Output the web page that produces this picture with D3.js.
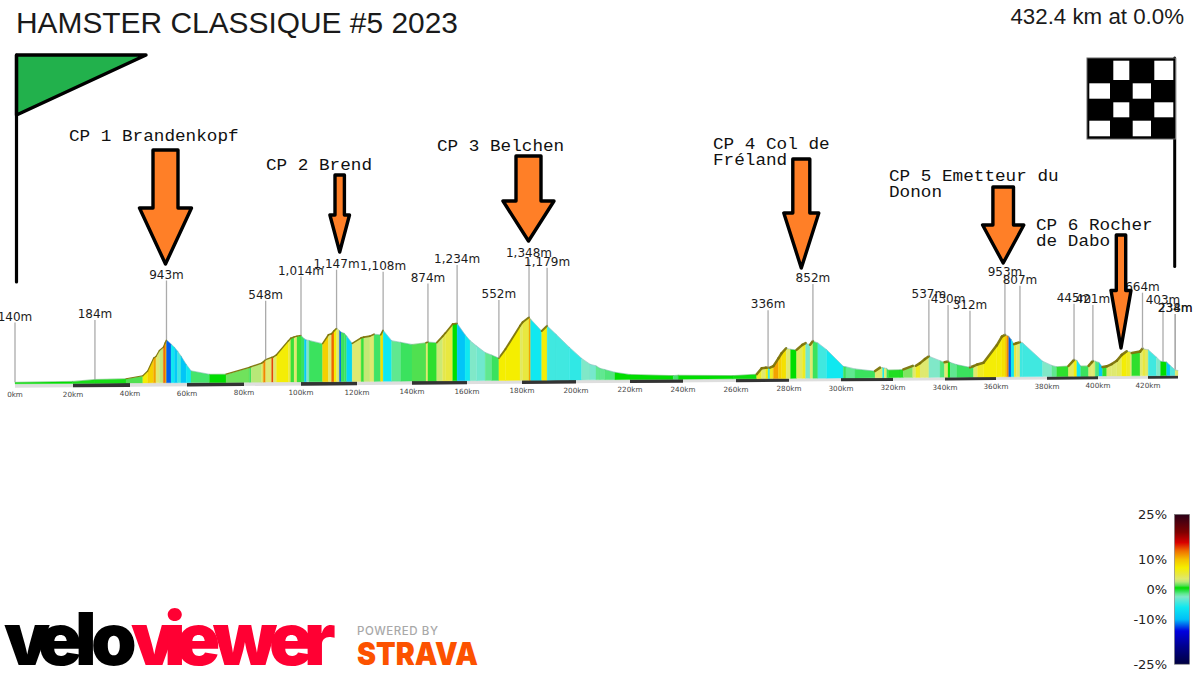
<!DOCTYPE html>
<html>
<head>
<meta charset="utf-8">
<title>HAMSTER CLASSIQUE #5 2023</title>
<script src="https://cdn.jsdelivr.net/npm/d3@7"></script>
<style>
  html, body { margin: 0; padding: 0; background: #fff; }
  svg { display: block; }
</style>
</head>
<body>
<svg id="chart" width="1200" height="675"></svg>
<script>
// Route profile: distance (km), elevation (m) and the gradient band (%) that follows each point.
const profileKm = [
  0, 19.9, 27.7, 38.6, 44.5, 46.2, 48.3, 49.1, 50.3, 51.7, 52.3, 52.8, 54.4, 55.6, 56.7, 57.9, 59.7, 61.4, 67.9, 73.7,
  81.9, 82.5, 86.2, 86.8, 87.6, 89.7, 90.3, 91.4, 95.6, 96.4, 97.6, 98.6, 100, 101.2, 102, 102.9, 107.7, 109.8, 110.9, 111.8,
  112.7, 113.7, 114.3, 115.5, 116.3, 118.3, 121.5, 122.5, 124.7, 126.2, 128.6, 129.5, 132.6, 135.9, 140, 145.1, 145.8, 149, 151.1, 152.1,
  154.8, 156.4, 159.3, 161.1, 163.5, 166.6, 169, 171.6, 174, 179.3, 180.2, 182.6, 183.2, 187.3, 189.3, 192.6, 197.5, 202.1, 205.2, 207.4,
  208.9, 210.7, 214.4, 220, 236.3, 238.2, 258.9, 267.8, 269.7, 271.2, 272.1, 272.8, 274.1, 276, 277.2, 278.9, 280.6, 282.9, 285.1, 286.4,
  288.1, 289.2, 291.1, 294.5, 300.9, 301.9, 305.4, 313.1, 315, 316, 316.6, 317.6, 318.2, 322.7, 324, 327.6, 328.8, 330.4, 332.3, 333.8,
  338.1, 339.8, 341.2, 342, 344.6, 349.8, 351.2, 352.7, 355.1, 360.3, 362.3, 363.5, 364.2, 365, 365.9, 367.1, 368, 369.4, 370.5, 378.3,
  381.9, 383.8, 388.4, 390.6, 391.7, 393.2, 396.3, 397.6, 398, 398.9, 400.4, 401.8, 403.5, 405.5, 407.5, 409.5, 411.5, 412.8, 413.5, 416.8,
  417.8, 418.8, 420.1, 423.5, 425.2, 426.2, 427.7, 429.1, 431.2, 432.4
];
const profileElev = [
  140, 150, 184, 195, 250, 340, 590, 620, 735, 800, 880, 943, 862, 798, 722, 627, 468, 341, 271, 271,
  398, 412, 480, 505, 548, 590, 600, 640, 913, 960, 985, 1000, 1014, 948, 925, 916, 853, 1024, 1043, 1100,
  1147, 1110, 1075, 1050, 1000, 853, 961, 974, 993, 1031, 1018, 1108, 904, 870, 828, 859, 874, 859, 980, 1043,
  1221, 1234, 1012, 897, 790, 663, 612, 552, 726, 1183, 1247, 1348, 1310, 1075, 1179, 1012, 758, 536, 421, 390,
  340, 315, 261, 216, 188, 195, 180, 204, 320, 330, 336, 330, 362, 514, 613, 711, 692, 678, 777, 810,
  777, 852, 815, 678, 349, 340, 297, 250, 317, 317, 310, 300, 270, 274, 280, 349, 349, 402, 482, 537,
  448, 414, 430, 414, 368, 312, 335, 368, 402, 746, 919, 953, 945, 925, 865, 766, 785, 807, 790, 424,
  339, 313, 325, 445, 438, 323, 325, 400, 421, 418, 392, 300, 313, 358, 424, 540, 611, 600, 577, 603,
  664, 650, 640, 491, 410, 403, 392, 325, 234, 220
];
const segmentGrade = [
  0.5, 0.7, 0.7, 1.2, 7, 9, 11, 3.5, 2.8, 13, 11, -12, -6, -9, -4.5, -9.5, -6, -1, 0.5, 1.6,
  -0.7, 2.5, 4, 12, 3.5, 14, 3.5, 7, 5, 1, 3.5, 1, -0.8, -9, -2.5, -0.8, 9, 3.5, 13, 7,
  3.5, -12, -0.8, -0.8, -8, 3.5, 1, 2.8, 3.5, -0.9, 8, -6, -1.5, -0.8, 1.2, 3.5, 0.9, 3, 4.5, 5,
  0.5, -9.5, -6, -2.5, -3, -1.5, -0.8, 7.2, 7.2, 4, 5, 11, -6, 7, -4.5, -4.5, -5, -2.5, -2.8, -1.5,
  -1.5, -1.2, 0.5, 0.5, -1, 0.5, 0.6, 6, 3.5, 7, -5, 6, 11, 9, 8, 3.5, 0.5, 4, 6, -2.8,
  3.5, -0.8, -4.5, -6, -0.8, -1.5, -0.8, 3.5, 3.5, -6, 3.5, -0.8, 0.8, 0.8, 1.8, 3.5, 6, 3.5, 3.5, -2.5,
  -1.2, 3.5, 0.5, -1.5, -0.8, -0.8, 3.5, 6, 7, 7, 8, 9, 12, -12, -6, 5, 3.5, -4.5, -4.5, -2.5,
  -1.5, 0.9, 4, 7, -6, -0.8, 3.5, 3.5, 3.5, -1.2, -9, 0.9, 3.5, 3.5, 4, 7, 6, 3.5, 0.9, 3.5,
  5, 4, -4.5, -2.5, 0.5, 0.5, -9, -4, 3.5
];

// Named summits and passes: kilometre, elevation in metres.
const markerKm = [0, 27.7, 52.8, 87.6, 100, 112.7, 129.5, 145.8, 156.4, 171.6, 182.6, 189.3, 272.1, 289.2, 333.8, 341.2, 349.8, 363.5, 369.4, 390.6, 398, 417.8, 426.2, 431.2, 431.3];
const markerElev = [140, 184, 943, 548, 1014, 1147, 1108, 874, 1234, 552, 1348, 1179, 336, 852, 537, 430, 312, 953, 807, 445, 421, 664, 403, 234, 238];

// Distance axis.
const distanceTicks = [0, 20, 40, 60, 80, 100, 120, 140, 160, 180, 200, 220, 240, 260, 280, 300, 320, 340, 360, 380, 400, 420];
const totalKm = 432.4;

// Checkpoint callouts.
const checkpointLines = [
  ["CP 1 Brandenkopf"],
  ["CP 2 Brend"],
  ["CP 3 Belchen"],
  ["CP 4 Col de", "Fréland"],
  ["CP 5 Emetteur du", "Donon"],
  ["CP 6 Rocher", "de Dabo"]
];

// Gradient colour key.
const gradeStops = [25, 19, 15.6, 12.8, 10, 7.2, 5, 3.5, 2.5, 1.2, 0.5, -0.6, -1.5, -2.5, -4.5, -6, -10, -13.9, -18.9, -25];
const gradeColors = ["#2a0018", "#800000", "#d80000", "#f07000", "#f5c000", "#f5ee00", "#e8e840", "#dfe970", "#b8e878", "#50e050", "#00dd00", "#30e050", "#60e890", "#80e8c8", "#40e8e0", "#10e8f0", "#00c0f8", "#0000e0", "#000090", "#000040"];
const gradeTicks = [25, 10, 0, -10, -25];

// ---- layout ----
const svg = d3.select("#chart");
const FONT_SANS = '"Liberation Sans", Arial, sans-serif';
const FONT_NUM = '"DejaVu Sans", sans-serif';
const FONT_MONO = '"Liberation Mono", "Courier New", monospace';

// The ribbon is drawn in slight perspective, so equal distances shrink to the right.
const x = d3.scaleLinear()
  .domain([...distanceTicks, totalKm])
  .range([15, 73, 130, 187, 244, 301, 357, 412, 467, 522, 576, 630, 683, 736, 789, 841, 893, 945, 996, 1047, 1098, 1148, 1178]);
const bandTop = d3.scaleLinear().domain([0, totalKm]).range([383.8, 375.5]);
const bandHeight = d3.scaleLinear().domain([0, totalKm]).range([4, 3]);
const datum100 = d3.scaleLinear().domain([0, totalKm]).range([384.6, 376.8]);
const metrePx = d3.scaleLinear().domain([0, totalKm]).range([0.052, 0.05]);
const stem = d3.scaleLinear().domain([0, totalKm]).range([60, 56]);
const yAt = (km, m) => datum100(km) - (m - 100) * metrePx(km);
const grade = d3.scaleLinear().domain(gradeStops).range(gradeColors).clamp(true);

// ---- distance strip under the ribbon ----
const strip = svg.append("g");
const stripShape = d3.line().x(d => x(d[0])).y(d => d[1]);
const stripPoly = (a, b) => stripShape([
  [a, bandTop(a)], [b, bandTop(b)],
  [b, bandTop(b) + bandHeight(b)], [a, bandTop(a) + bandHeight(a)]
]) + "Z";
strip.append("path").attr("d", stripPoly(0, totalKm)).attr("fill", "#dedede");
const stripEdges = [...distanceTicks, totalKm];
strip.selectAll("path.dark")
  .data(d3.pairs(stripEdges).filter((_, i) => i % 2 === 1))
  .join("path").attr("class", "dark")
  .attr("d", d => stripPoly(d[0], d[1]))
  .attr("fill", "#333333");

strip.selectAll("text")
  .data(distanceTicks)
  .join("text")
  .attr("x", d => x(d))
  .attr("y", d => bandTop(d) + bandHeight(d) + 9.3)
  .attr("text-anchor", "middle")
  .attr("font-family", FONT_NUM)
  .attr("font-size", 7.2)
  .attr("fill", "#444")
  .text(d => d + "km");

// ---- marker stems and labels ----
const markers = markerKm.map((km, i) => ({ km, m: markerElev[i] }));
const fmt = d3.format(",");
const markerG = svg.append("g");
markerG.selectAll("line")
  .data(markers)
  .join("line")
  .attr("x1", d => x(d.km)).attr("x2", d => x(d.km))
  .attr("y1", d => yAt(d.km, d.m) - stem(d.km))
  .attr("y2", d => yAt(d.km, d.m) - 0.5)
  .attr("stroke", "#ababab")
  .attr("stroke-width", 1.3);

// ---- coloured ribbon ----
const segments = segmentGrade.map((g, i) => ({
  g,
  k0: profileKm[i], k1: profileKm[i + 1],
  m0: profileElev[i], m1: profileElev[i + 1]
}));
const ribbon = svg.append("g");
ribbon.selectAll("path")
  .data(segments)
  .join("path")
  .attr("d", d => `M${x(d.k0)},${yAt(d.k0, d.m0)}L${x(d.k1)},${yAt(d.k1, d.m1)}L${x(d.k1)},${bandTop(d.k1)}L${x(d.k0)},${bandTop(d.k0)}Z`)
  .attr("fill", d => grade(d.g))
  .attr("stroke", d => grade(d.g))
  .attr("stroke-width", 0.3);

// Top edge of the ribbon: climbs show a dark olive side, descents a thin grey line.
const slope = d => (yAt(d.k0, d.m0) - yAt(d.k1, d.m1)) / (x(d.k1) - x(d.k0));
const edge = svg.append("g").attr("fill", "none").attr("stroke-linecap", "round");
edge.selectAll("line")
  .data(segments)
  .join("line")
  .attr("x1", d => x(d.k0)).attr("y1", d => yAt(d.k0, d.m0) - 0.3)
  .attr("x2", d => x(d.k1)).attr("y2", d => yAt(d.k1, d.m1) - 0.3)
  .attr("stroke", d => slope(d) > 0.12 ? "#7d7408" : (slope(d) < -0.03 ? "#5f9aa0" : "#3f9a45"))
  .attr("stroke-width", d => slope(d) > 0.12 ? 0.9 + 1.6 * Math.min(1, d.k0 / 280) : 0.6)
  .attr("stroke-opacity", d => slope(d) > 0.12 ? 0.95 : 0.6);

markerG.raise();
markerG.selectAll("text")
  .data(markers)
  .join("text")
  .attr("x", d => x(d.km))
  .attr("y", d => yAt(d.km, d.m) - stem(d.km) - 2)
  .attr("text-anchor", "middle")
  .attr("font-family", FONT_NUM)
  .attr("font-size", 12)
  .attr("fill", "#1c1c1c")
  .text(d => fmt(d.m) + "m");

// ---- title ----
svg.append("text").attr("x", 16).attr("y", 32.7)
  .attr("font-family", FONT_SANS).attr("font-size", 29.9).attr("fill", "#1a1a1a")
  .text("HAMSTER CLASSIQUE #5 2023");
svg.append("text").attr("x", 1184).attr("y", 23.5).attr("text-anchor", "end")
  .attr("font-family", FONT_SANS).attr("font-size", 22.3).attr("fill", "#1a1a1a")
  .text(`${totalKm} km at 0.0%`);

// ---- start flag ----
const flags = svg.append("g");
flags.append("path")
  .attr("d", "M16.5,55H146L16.5,115Z")
  .attr("fill", "#22b14c").attr("stroke", "#000").attr("stroke-width", 3.4).attr("stroke-linejoin", "round");
flags.append("line").attr("x1", 16.5).attr("x2", 16.5).attr("y1", 55).attr("y2", 282)
  .attr("stroke", "#000").attr("stroke-width", 3.2).attr("stroke-linecap", "round");

// ---- finish flag ----
const chequerCols = [[1089.3, 1110], [1113.3, 1129.3], [1132.7, 1151], [1154.3, 1173.3]];
const chequerRows = [[60.7, 80], [83.3, 98.7], [102.3, 117.3], [120.7, 136.3]];
flags.append("line").attr("x1", 1174.7).attr("x2", 1174.7).attr("y1", 58).attr("y2", 266.5)
  .attr("stroke", "#000").attr("stroke-width", 3).attr("stroke-linecap", "round");
flags.append("rect").attr("x", 1087).attr("y", 58).attr("width", 88.5).attr("height", 81)
  .attr("fill", "#000").attr("stroke", "#666").attr("stroke-width", 1);
flags.selectAll("rect.cell")
  .data(d3.cross(d3.range(4), d3.range(4)).filter(([r, c]) => (r + c) % 2 === 1))
  .join("rect").attr("class", "cell")
  .attr("x", ([, c]) => chequerCols[c][0])
  .attr("y", ([r]) => chequerRows[r][0])
  .attr("width", ([, c]) => chequerCols[c][1] - chequerCols[c][0])
  .attr("height", ([r]) => chequerRows[r][1] - chequerRows[r][0])
  .attr("fill", "#fff");

// ---- checkpoint arrows and captions ----
const arrowShapes = [
  { cx: 165.5, half: 12.5, wing: 26, top: 150, neck: 208, tip: 264, tx: 69, ty: 141 },
  { cx: 339.7, half: 4.7, wing: 9.8, top: 175, neck: 215, tip: 252, tx: 266, ty: 170 },
  { cx: 528.5, half: 12.5, wing: 25.5, top: 156, neck: 201, tip: 241, tx: 437, ty: 151 },
  { cx: 801.3, half: 8.5, wing: 17.5, top: 159, neck: 213, tip: 268, tx: 713, ty: 149 },
  { cx: 1003.2, half: 10.3, wing: 20.6, top: 187, neck: 225, tip: 263, tx: 889, ty: 181 },
  { cx: 1121, half: 4.7, wing: 10, top: 235, neck: 290.5, tip: 348, tx: 1036, ty: 230 }
];
const arrowG = svg.append("g");
arrowG.selectAll("path")
  .data(arrowShapes)
  .join("path")
  .attr("d", a => `M${a.cx - a.half},${a.top}H${a.cx + a.half}V${a.neck}H${a.cx + a.wing}L${a.cx},${a.tip}L${a.cx - a.wing},${a.neck}H${a.cx - a.half}Z`)
  .attr("fill", "#ff7f27").attr("stroke", "#000").attr("stroke-width", 3.4).attr("stroke-linejoin", "round");
arrowShapes.forEach((a, i) => {
  checkpointLines[i].forEach((line, j) => {
    svg.append("text")
      .attr("x", a.tx).attr("y", a.ty + j * 16)
      .attr("font-family", FONT_MONO).attr("font-size", 15.6).attr("fill", "#111")
      .attr("textLength", line.length * 10.6).attr("lengthAdjust", "spacingAndGlyphs")
      .text(line);
  });
});

// ---- gradient key ----
const keyY = d3.scaleLinear().domain([25, -25]).range([514.4, 664.2]);
const keyGradient = svg.append("defs").append("linearGradient")
  .attr("id", "gradeKey").attr("x1", 0).attr("x2", 0).attr("y1", 0).attr("y2", 1);
keyGradient.selectAll("stop")
  .data(gradeStops)
  .join("stop")
  .attr("offset", d => (25 - d) / 50)
  .attr("stop-color", d => grade(d));
const key = svg.append("g");
key.append("rect").attr("x", 1174.5).attr("width", 15).attr("y", keyY(25)).attr("height", keyY(-25) - keyY(25))
  .attr("fill", "url(#gradeKey)").attr("stroke", "#777").attr("stroke-width", 0.6);
key.selectAll("text")
  .data(gradeTicks)
  .join("text")
  .attr("x", 1167).attr("y", d => keyY(d) + 5)
  .attr("text-anchor", "end")
  .attr("font-family", FONT_NUM).attr("font-size", 13).attr("fill", "#222")
  .text(d => d + "%");

// ---- wordmarks ----
const mark = svg.append("g").attr("font-family", 'Inter, Roboto, sans-serif').attr("font-weight", 900);
mark.append("text").attr("x", "4 38 75 91").attr("y", 665).attr("font-size", 73)
  .attr("fill", "#000").text("velo");
mark.append("text").attr("x", "131 164 176 213 269 304").attr("y", 665).attr("font-size", 73)
  .attr("fill", "#ff0033").text("viewer");
svg.append("text").attr("x", 357).attr("y", 635).attr("font-family", 'Inter, sans-serif').attr("font-size", 11.5).attr("font-weight", 500)
  .attr("textLength", 81).attr("fill", "#a8a8a8").text("POWERED BY");
mark.append("text").attr("x", 357).attr("y", 665).attr("font-size", 32)
  .attr("textLength", 121).attr("lengthAdjust", "spacingAndGlyphs").attr("fill", "#fc5200").text("STRAVA");
</script>
</body>
</html>
